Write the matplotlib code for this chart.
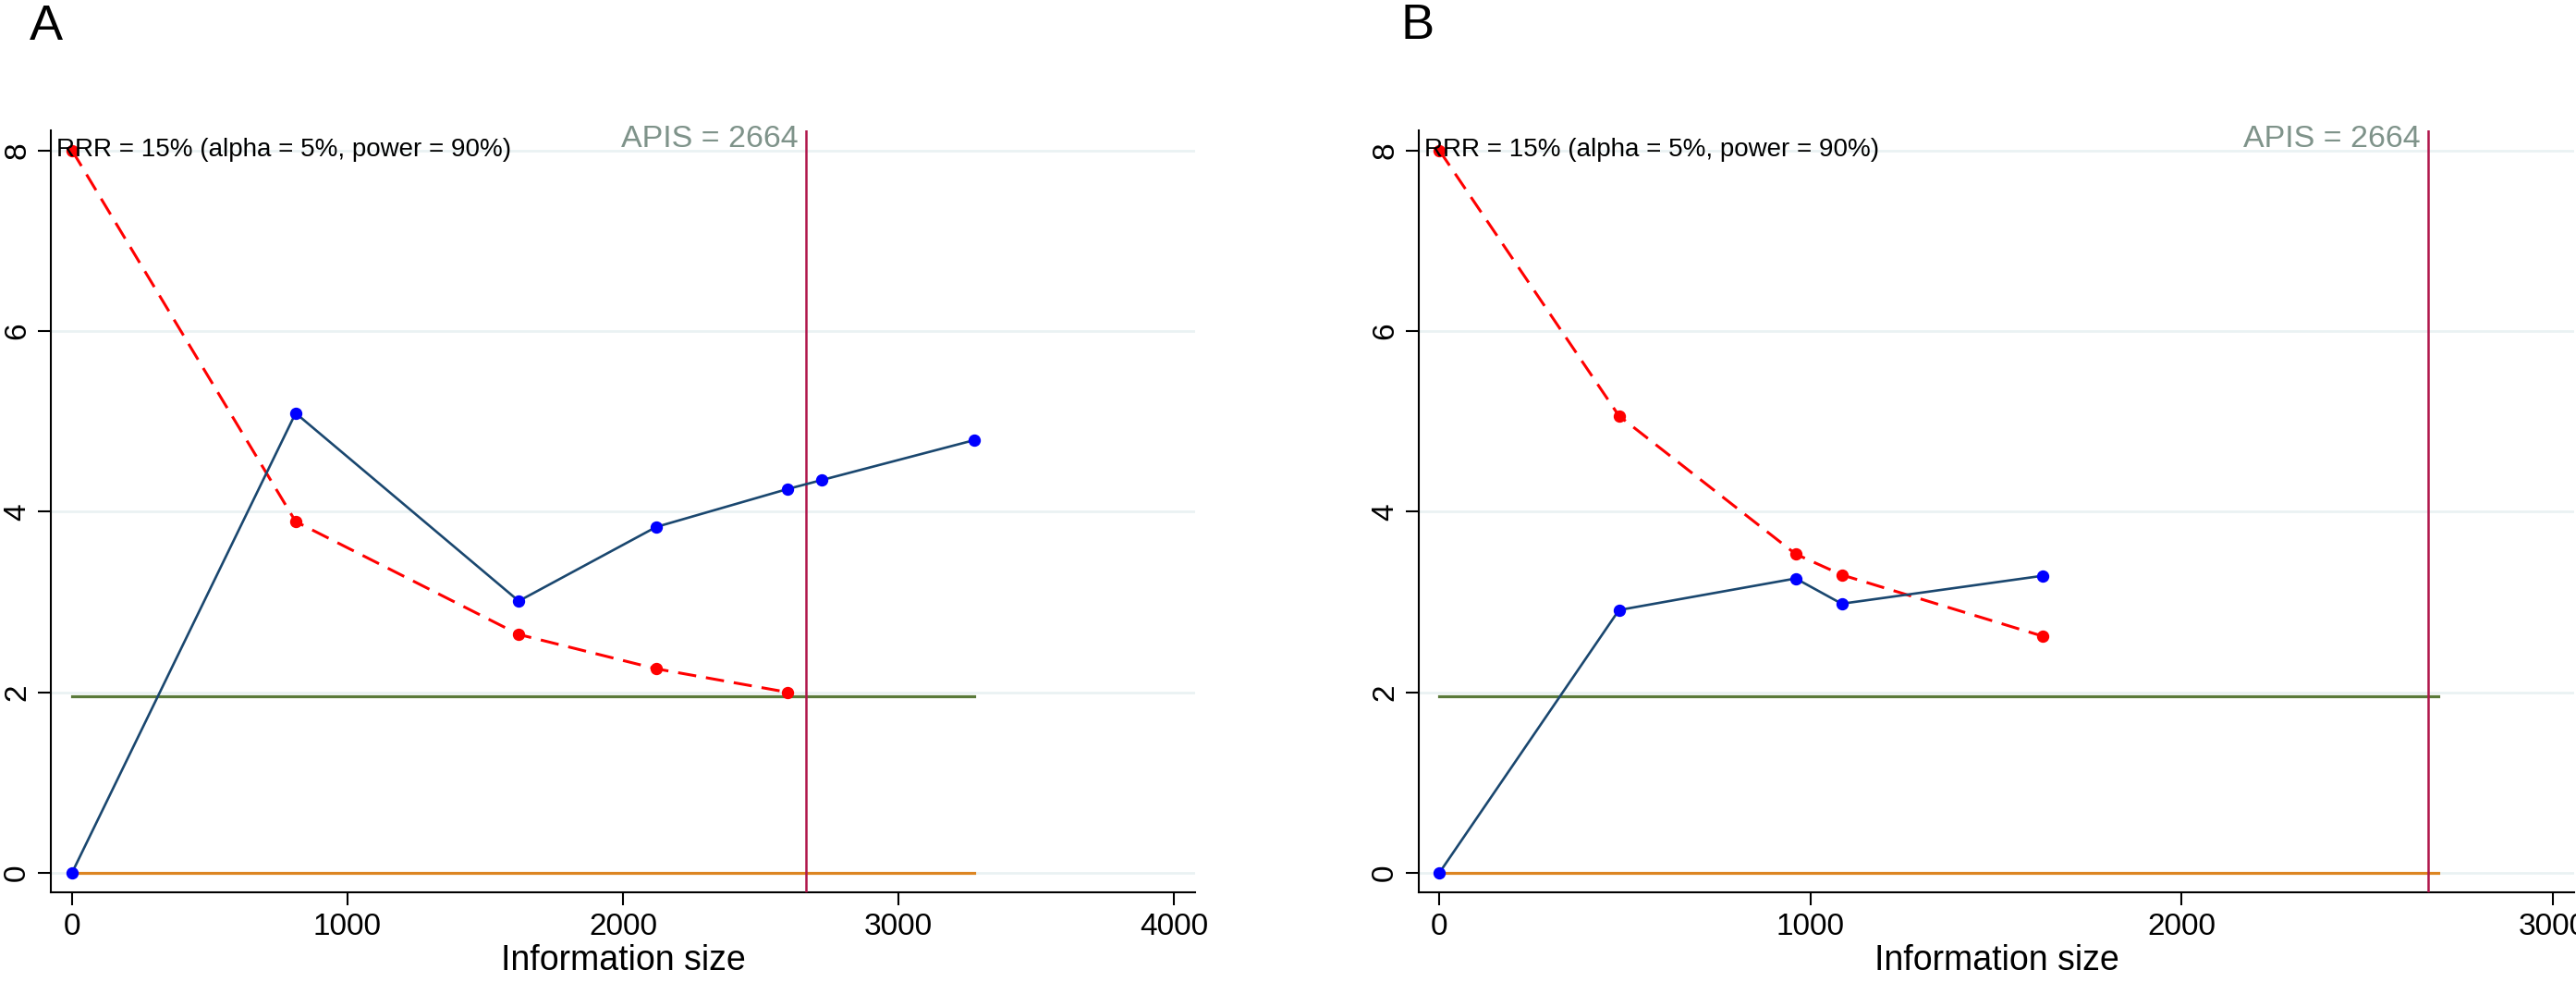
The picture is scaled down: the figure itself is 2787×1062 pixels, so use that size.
import numpy as np
import matplotlib
matplotlib.use('Agg')
import matplotlib.pyplot as plt

plt.rcParams['font.family'] = ['Liberation Sans', 'DejaVu Sans']

# panel A
info_a = [0, 812, 1622, 2121, 2598, 2723, 3274]
z_a = [0, 5.09, 3.01, 3.83, 4.25, 4.35, 4.79]
bound_x_a = [0, 812, 1622, 2121, 2598]
bound_a = [8, 3.89, 2.64, 2.26, 2.0]
hline_end_a = 3274
xticks_a = [0, 1000, 2000, 3000, 4000]

# panel B
info_b = [0, 484, 960, 1084, 1626]
z_b = [0, 2.91, 3.26, 2.98, 3.29]
bound_x_b = [0, 484, 960, 1084, 1626]
bound_b = [8, 5.06, 3.53, 3.30, 2.62]
hline_end_b = 2690
xticks_b = [0, 1000, 2000, 3000]

apis = 2664
z_crit = 1.96
yticks = [0, 2, 4, 6, 8]
rrr_text = 'RRR = 15% (alpha = 5%, power = 90%)'

navy = '#1a476f'
grid_col = '#eaf2f3'


def draw_panel(ax, info, z, bx, bnd, hend, xticks, xlim):
    for yv in yticks:
        ax.axhline(yv, color=grid_col, lw=2.0, zorder=0)
    ax.plot([0, hend], [z_crit, z_crit], color='#5a7a3a', lw=2.3, zorder=2)
    ax.plot([0, hend], [0, 0], color='#dc8522', lw=2.3, zorder=2)
    ax.axvline(apis, color='#b0154a', lw=1.8, zorder=3)
    ax.plot(bx, bnd, color='#ff0000', lw=2.2, ls=(0, (6.5, 3.5)),
            marker='o', ms=8.6, mfc='#ff0000', mec='#ff0000', zorder=4)
    ax.plot(info, z, color=navy, lw=1.9, marker='o', ms=8.6,
            mfc='#0000ff', mec='#0000ff', zorder=5)

    ax.set_xlim(*xlim)
    ax.set_ylim(-0.215, 8.22)
    ax.set_xticks(xticks)
    ax.set_yticks(yticks)
    ax.tick_params(axis='both', labelsize=24, length=10, width=1.5, direction='out')
    ax.tick_params(axis='x', pad=6)
    ax.tick_params(axis='y', pad=5)
    for lab in ax.get_yticklabels():
        lab.set_rotation(90)
        lab.set_va('center')
    for s in ['top', 'right']:
        ax.spines[s].set_visible(False)
    for s in ['left', 'bottom']:
        ax.spines[s].set_linewidth(1.5)
    ax.set_xlabel('Information size', fontsize=27, labelpad=2)

    ax.text(0.005, 7.93, rrr_text, transform=ax.get_yaxis_transform(),
            fontsize=20, ha='left', va='baseline', zorder=6)
    ax.annotate('APIS = %d' % apis, xy=(apis, 8.035), xytext=(-6, 0),
                textcoords='offset points', fontsize=24.5, color='#7f938a',
                ha='right', va='baseline', zorder=6)
    return ax


fig = plt.figure(figsize=(27.87, 10.62), dpi=100)
ax_a = fig.add_axes([0.0197, 0.0913, 0.4442, 0.7759])
ax_b = fig.add_axes([0.5508, 0.0913, 0.4485, 0.7759])

draw_panel(ax_a, info_a, z_a, bound_x_a, bound_a, hline_end_a, xticks_a, (-77, 4077))
draw_panel(ax_b, info_b, z_b, bound_x_b, bound_b, hline_end_b, xticks_b, (-55, 3057))

fig.text(32 / 2787, 1 - 43 / 1062, 'A', fontsize=39, ha='left', va='baseline')
fig.text(1516 / 2787, 1 - 42 / 1062, 'B', fontsize=39, ha='left', va='baseline')

fig.savefig('out.png', dpi=100)
